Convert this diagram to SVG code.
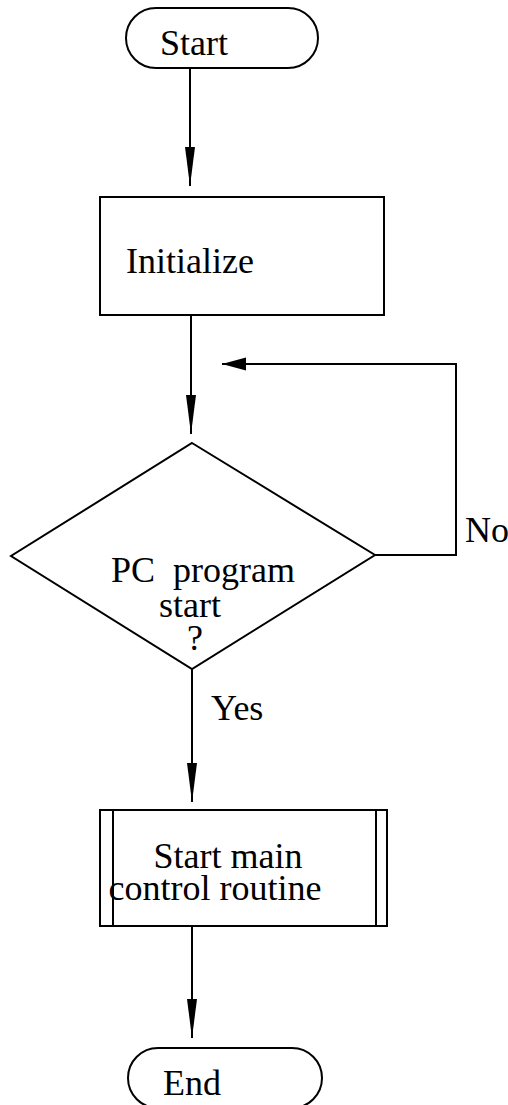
<svg xmlns="http://www.w3.org/2000/svg" width="508" height="1105" viewBox="0 0 508 1105">
<style>
.s{fill:none;stroke:#000;stroke-width:2}
.t{font-family:"Liberation Serif","Times New Roman",serif;font-size:36px;fill:#000}
.c{text-anchor:middle}
</style>
<defs>
<marker id="ah" markerUnits="userSpaceOnUse" markerWidth="40" markerHeight="12" refX="39" refY="5.5" orient="auto">
<path d="M0,0.5 L39,5.5 L0,10.5 Z" fill="#000"/>
</marker>
<marker id="ah2" markerUnits="userSpaceOnUse" markerWidth="26" markerHeight="14" refX="24" refY="6.5" orient="auto">
<path d="M0,0 L24,6.5 L0,13 Z" fill="#000"/>
</marker>
</defs>
<rect width="508" height="1105" fill="#fff"/>
<g id="start">
<rect class="s" x="126" y="8" width="192" height="60" rx="30" ry="30"/>
<text class="t c" x="194" y="55">Start</text>
</g>
<g id="init">
<rect class="s" x="100" y="197" width="284" height="118"/>
<text class="t" x="126" y="273">Initialize</text>
</g>
<g id="decision">
<polygon class="s" points="192,443 375,555 192,669 11,556"/>
<text class="t c" xml:space="preserve"><tspan x="203" y="582">PC  program</tspan><tspan x="190" y="617">start</tspan><tspan x="195" y="650">?</tspan></text>
</g>
<g id="main">
<rect class="s" x="100" y="810" width="287" height="116"/>
<line class="s" x1="113" y1="810" x2="113" y2="926"/>
<line class="s" x1="376" y1="810" x2="376" y2="926"/>
<text class="t c"><tspan x="228" y="868">Start main</tspan><tspan x="215" y="900">control routine</tspan></text>
</g>
<g id="end">
<rect class="s" x="128" y="1048" width="194" height="60" rx="30" ry="30"/>
<text class="t c" x="192" y="1095">End</text>
</g>
<g id="connectors">
<line class="s" x1="190" y1="68" x2="190" y2="186" marker-end="url(#ah)"/>
<line class="s" x1="191" y1="315" x2="191" y2="434" marker-end="url(#ah)"/>
<polyline class="s" points="375,555 456,555 456,364 222,364" marker-end="url(#ah2)"/>
<line class="s" x1="192" y1="669" x2="192" y2="802" marker-end="url(#ah)"/>
<line class="s" x1="192" y1="926" x2="192" y2="1038" marker-end="url(#ah)"/>
<text class="t" x="465" y="542">No</text>
<text class="t" x="211" y="720">Yes</text>
</g>
</svg>
